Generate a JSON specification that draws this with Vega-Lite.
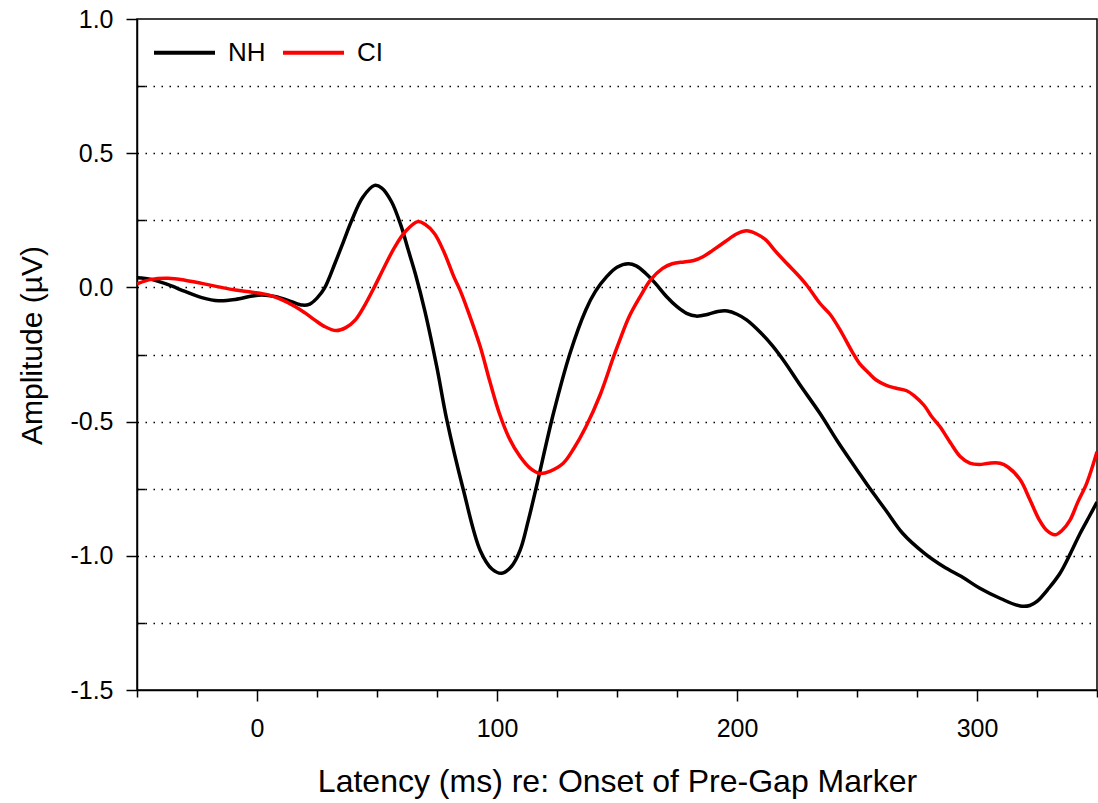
{
  "$schema": "https://vega.github.io/schema/vega-lite/v6.json",
  "width": 960,
  "height": 671,
  "autosize": {"type": "none"},
  "padding": {"left": 137, "top": 19, "right": 1, "bottom": 113},
  "background": "white",
  "config": {
    "view": {"stroke": "#000000", "strokeWidth": 1.5},
    "font": "Liberation Sans"
  },
  "data": {"values": [
    {"group":"NH","t":-50,"amp":0.036},{"group":"NH","t":-44,"amp":0.03},{"group":"NH","t":-37,"amp":0.01},{"group":"NH","t":-30,"amp":-0.015},{"group":"NH","t":-23,"amp":-0.038},{"group":"NH","t":-16,"amp":-0.05},{"group":"NH","t":-9,"amp":-0.045},{"group":"NH","t":-2,"amp":-0.032},{"group":"NH","t":2,"amp":-0.028},{"group":"NH","t":8,"amp":-0.035},{"group":"NH","t":14,"amp":-0.052},{"group":"NH","t":19,"amp":-0.066},{"group":"NH","t":22,"amp":-0.062},{"group":"NH","t":25,"amp":-0.04},{"group":"NH","t":28,"amp":-0.005},{"group":"NH","t":32.5,"amp":0.09},{"group":"NH","t":36,"amp":0.17},{"group":"NH","t":39.5,"amp":0.25},{"group":"NH","t":44,"amp":0.335},{"group":"NH","t":49,"amp":0.38},{"group":"NH","t":52,"amp":0.37},{"group":"NH","t":56,"amp":0.32},{"group":"NH","t":60,"amp":0.23},{"group":"NH","t":63,"amp":0.14},{"group":"NH","t":66,"amp":0.05},{"group":"NH","t":70,"amp":-0.09},{"group":"NH","t":75,"amp":-0.3},{"group":"NH","t":79,"amp":-0.49},{"group":"NH","t":86,"amp":-0.755},{"group":"NH","t":93,"amp":-0.98},{"group":"NH","t":98,"amp":-1.05},{"group":"NH","t":102,"amp":-1.065},{"group":"NH","t":106,"amp":-1.04},{"group":"NH","t":109.6,"amp":-0.98},{"group":"NH","t":113,"amp":-0.87},{"group":"NH","t":116.5,"amp":-0.74},{"group":"NH","t":123.5,"amp":-0.47},{"group":"NH","t":130.4,"amp":-0.246},{"group":"NH","t":137,"amp":-0.084},{"group":"NH","t":141,"amp":-0.015},{"group":"NH","t":145.7,"amp":0.04},{"group":"NH","t":150,"amp":0.075},{"group":"NH","t":154.7,"amp":0.088},{"group":"NH","t":158,"amp":0.08},{"group":"NH","t":162,"amp":0.052},{"group":"NH","t":166,"amp":0.015},{"group":"NH","t":170.7,"amp":-0.035},{"group":"NH","t":175,"amp":-0.072},{"group":"NH","t":179,"amp":-0.097},{"group":"NH","t":183,"amp":-0.107},{"group":"NH","t":188,"amp":-0.1},{"group":"NH","t":192,"amp":-0.09},{"group":"NH","t":196,"amp":-0.088},{"group":"NH","t":200,"amp":-0.1},{"group":"NH","t":204,"amp":-0.121},{"group":"NH","t":210,"amp":-0.17},{"group":"NH","t":215,"amp":-0.22},{"group":"NH","t":220,"amp":-0.28},{"group":"NH","t":226,"amp":-0.36},{"group":"NH","t":234.6,"amp":-0.47},{"group":"NH","t":242,"amp":-0.575},{"group":"NH","t":250,"amp":-0.68},{"group":"NH","t":255,"amp":-0.745},{"group":"NH","t":262,"amp":-0.83},{"group":"NH","t":269,"amp":-0.916},{"group":"NH","t":278,"amp":-0.99},{"group":"NH","t":286,"amp":-1.04},{"group":"NH","t":294,"amp":-1.08},{"group":"NH","t":301,"amp":-1.12},{"group":"NH","t":310,"amp":-1.16},{"group":"NH","t":318,"amp":-1.187},{"group":"NH","t":322,"amp":-1.185},{"group":"NH","t":325,"amp":-1.17},{"group":"NH","t":330,"amp":-1.12},{"group":"NH","t":334.6,"amp":-1.065},{"group":"NH","t":339,"amp":-0.99},{"group":"NH","t":343,"amp":-0.916},{"group":"NH","t":347,"amp":-0.85},{"group":"NH","t":350,"amp":-0.8},
    {"group":"CI","t":-50,"amp":0.013},{"group":"CI","t":-44,"amp":0.03},{"group":"CI","t":-37,"amp":0.034},{"group":"CI","t":-30,"amp":0.027},{"group":"CI","t":-23,"amp":0.015},{"group":"CI","t":-16,"amp":0.002},{"group":"CI","t":-9,"amp":-0.01},{"group":"CI","t":-2,"amp":-0.018},{"group":"CI","t":4.7,"amp":-0.028},{"group":"CI","t":10,"amp":-0.045},{"group":"CI","t":16,"amp":-0.072},{"group":"CI","t":20,"amp":-0.095},{"group":"CI","t":24,"amp":-0.121},{"group":"CI","t":28,"amp":-0.145},{"group":"CI","t":33,"amp":-0.161},{"group":"CI","t":37,"amp":-0.15},{"group":"CI","t":41,"amp":-0.121},{"group":"CI","t":45,"amp":-0.065},{"group":"CI","t":49,"amp":0.003},{"group":"CI","t":53,"amp":0.075},{"group":"CI","t":57.5,"amp":0.152},{"group":"CI","t":62,"amp":0.21},{"group":"CI","t":67,"amp":0.245},{"group":"CI","t":70,"amp":0.235},{"group":"CI","t":74,"amp":0.2},{"group":"CI","t":78,"amp":0.13},{"group":"CI","t":82,"amp":0.04},{"group":"CI","t":84.6,"amp":-0.01},{"group":"CI","t":88,"amp":-0.09},{"group":"CI","t":93,"amp":-0.22},{"group":"CI","t":97,"amp":-0.35},{"group":"CI","t":101,"amp":-0.47},{"group":"CI","t":105,"amp":-0.56},{"group":"CI","t":109.6,"amp":-0.63},{"group":"CI","t":114,"amp":-0.675},{"group":"CI","t":118,"amp":-0.693},{"group":"CI","t":122,"amp":-0.685},{"group":"CI","t":127.6,"amp":-0.655},{"group":"CI","t":132,"amp":-0.6},{"group":"CI","t":137,"amp":-0.52},{"group":"CI","t":143,"amp":-0.4},{"group":"CI","t":148.5,"amp":-0.26},{"group":"CI","t":151,"amp":-0.2},{"group":"CI","t":155,"amp":-0.11},{"group":"CI","t":159.6,"amp":-0.035},{"group":"CI","t":164,"amp":0.028},{"group":"CI","t":169,"amp":0.071},{"group":"CI","t":173,"amp":0.088},{"group":"CI","t":178,"amp":0.095},{"group":"CI","t":182,"amp":0.1},{"group":"CI","t":186,"amp":0.115},{"group":"CI","t":190,"amp":0.139},{"group":"CI","t":195,"amp":0.17},{"group":"CI","t":200,"amp":0.2},{"group":"CI","t":204,"amp":0.211},{"group":"CI","t":208,"amp":0.2},{"group":"CI","t":212,"amp":0.177},{"group":"CI","t":216,"amp":0.135},{"group":"CI","t":220.7,"amp":0.09},{"group":"CI","t":225,"amp":0.05},{"group":"CI","t":229,"amp":0.009},{"group":"CI","t":234.6,"amp":-0.06},{"group":"CI","t":238.75,"amp":-0.1},{"group":"CI","t":243,"amp":-0.159},{"group":"CI","t":248,"amp":-0.24},{"group":"CI","t":251,"amp":-0.283},{"group":"CI","t":255,"amp":-0.32},{"group":"CI","t":258,"amp":-0.345},{"group":"CI","t":262,"amp":-0.364},{"group":"CI","t":266,"amp":-0.375},{"group":"CI","t":270.7,"amp":-0.385},{"group":"CI","t":274,"amp":-0.405},{"group":"CI","t":278,"amp":-0.44},{"group":"CI","t":281,"amp":-0.48},{"group":"CI","t":284.6,"amp":-0.519},{"group":"CI","t":289,"amp":-0.58},{"group":"CI","t":293,"amp":-0.63},{"group":"CI","t":297,"amp":-0.655},{"group":"CI","t":301,"amp":-0.66},{"group":"CI","t":305,"amp":-0.655},{"group":"CI","t":309.6,"amp":-0.655},{"group":"CI","t":313,"amp":-0.67},{"group":"CI","t":318,"amp":-0.717},{"group":"CI","t":322,"amp":-0.79},{"group":"CI","t":326,"amp":-0.867},{"group":"CI","t":329,"amp":-0.905},{"group":"CI","t":332.5,"amp":-0.922},{"group":"CI","t":335.5,"amp":-0.905},{"group":"CI","t":338.75,"amp":-0.867},{"group":"CI","t":342,"amp":-0.8},{"group":"CI","t":345.7,"amp":-0.73},{"group":"CI","t":350,"amp":-0.612}
  ]},
  "mark": {"type": "line", "interpolate": "catmull-rom", "strokeWidth": 3.5, "clip": true},
  "encoding": {
    "x": {
      "field": "t", "type": "quantitative",
      "scale": {"domain": [-50, 350], "nice": false, "zero": false},
      "axis": {
        "title": "Latency (ms) re: Onset of Pre-Gap Marker",
        "values": [-50, -25, 0, 25, 50, 75, 100, 125, 150, 175, 200, 225, 250, 275, 300, 325, 350],
        "labelExpr": "datum.value % 100 === 0 ? datum.label : ''",
        "format": "d",
        "grid": false,
        "domainColor": "#000000", "domainWidth": 1.5,
        "tickColor": "#000000", "tickWidth": 1.5,
        "tickSize": {"condition": {"test": "datum.value % 100 === 0", "value": 11}, "value": 7},
        "labelFontSize": 25, "labelColor": "#000000", "labelPadding": 15, "labelFont": "Liberation Sans",
        "labelOverlap": false, "labelFlush": false,
        "titleFontSize": 32, "titleFontWeight": "normal", "titleColor": "#000000", "titleFont": "Liberation Sans", "titlePadding": 25
      }
    },
    "y": {
      "field": "amp", "type": "quantitative",
      "scale": {"domain": [-1.5, 1.0], "nice": false, "zero": false},
      "axis": {
        "title": "Amplitude (µV)",
        "titleY": 326,
        "values": [-1.5, -1.25, -1.0, -0.75, -0.5, -0.25, 0, 0.25, 0.5, 0.75, 1.0],
        "labelExpr": "datum.value % 0.5 === 0 ? replace(format(datum.value, '.1f'), '\u2212', '-') : ''",
        "grid": true,
        "gridColor": "#000000", "gridWidth": 1.5, "gridDash": [1.5, 6.5],
        "gridOpacity": {"condition": {"test": "datum.value === 1 || datum.value === -1.5", "value": 0}, "value": 1},
        "domainColor": "#000000", "domainWidth": 1.5,
        "tickColor": "#000000", "tickWidth": 1.5,
        "tickSize": {"condition": {"test": "datum.value % 0.5 === 0", "value": 11}, "value": -8},
        "labelFontSize": 25, "labelColor": "#000000", "labelPadding": 13, "labelFont": "Liberation Sans",
        "labelOverlap": false, "labelFlush": false,
        "titleFontSize": 30, "titleFontWeight": "normal", "titleColor": "#000000", "titleFont": "Liberation Sans", "titlePadding": 22
      }
    },
    "color": {
      "field": "group", "type": "nominal",
      "scale": {"domain": ["NH", "CI"], "range": ["#000000", "#FF0000"]},
      "legend": {
        "title": null,
        "orient": "none", "legendX": 15, "legendY": 1,
        "direction": "horizontal",
        "symbolType": "stroke", "symbolSize": 3721, "symbolStrokeWidth": 4,
        "labelFontSize": 26, "labelFont": "Liberation Sans", "labelColor": "#000000",
        "labelOffset": 11, "columnPadding": 9, "padding": 0
      }
    }
  }
}
